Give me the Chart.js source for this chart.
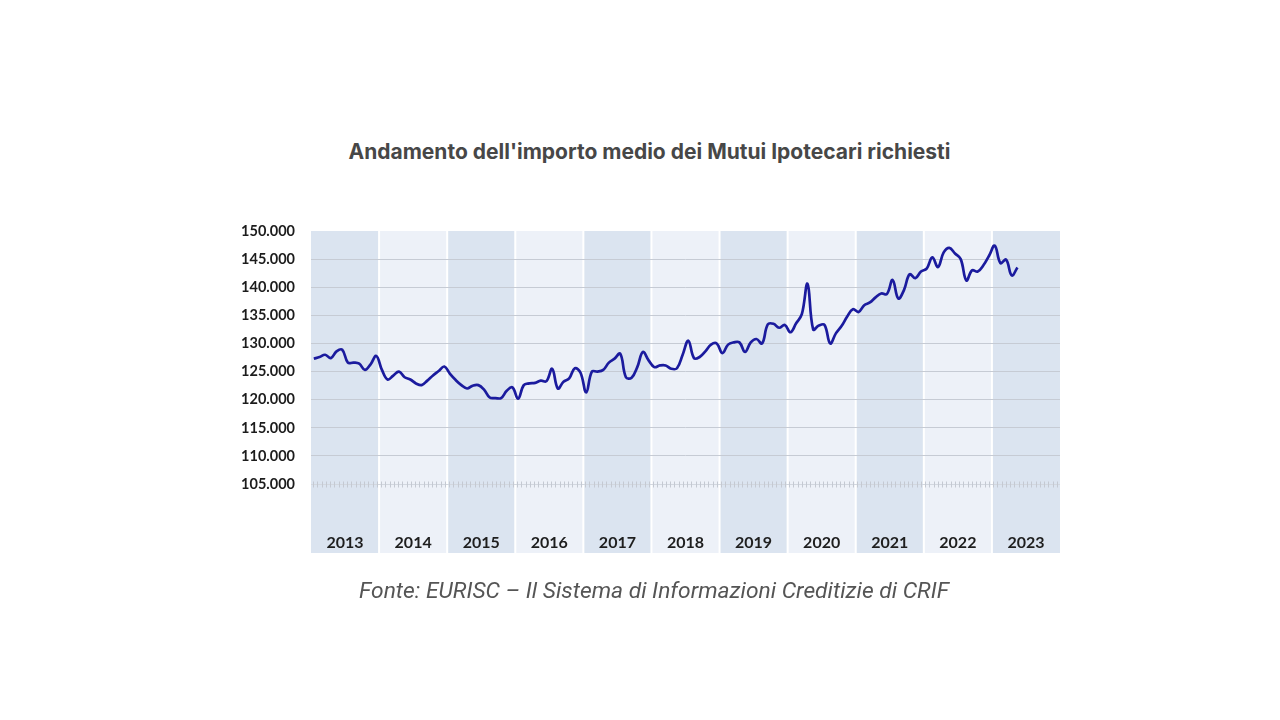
<!DOCTYPE html>
<html>
<head>
<meta charset="utf-8">
<script src="https://cdn.jsdelivr.net/npm/chart.js@4.4.0/dist/chart.umd.min.js"></script>
<style>
  html, body { margin: 0; padding: 0; background: #fff; }
  #wrap { position: relative; width: 1280px; height: 720px; overflow: hidden; }
  #grafico { position: absolute; left: 0; top: 0; }
  .titolo {
    position: absolute; left: 0; top: 139px; width: 1299px; text-align: center;
    font: 700 21px/26px Inter, "Noto Sans", sans-serif; color: #474747;
  }
  .fonte {
    position: absolute; left: 0; top: 577px; width: 1308px; text-align: center;
    font: italic 400 22.8px/28px Roboto, "Noto Sans", sans-serif; color: #555;
  }
</style>
</head>
<body>
<div id="wrap">
  <div class="titolo">Andamento dell'importo medio dei Mutui Ipotecari richiesti</div>
  <canvas id="grafico" width="1280" height="720"></canvas>
  <div class="fonte">Fonte: EURISC – Il Sistema di Informazioni Creditizie di CRIF</div>
</div>
<script>
const anni = ['2013', '2014', '2015', '2016', '2017', '2018', '2019', '2020', '2021', '2022', '2023'];

// importo medio mensile (euro), da gennaio 2013 a maggio 2023
const importoMensile = [
  127300, 127600, 128000, 127400, 128600, 128900, 126600, 126600, 126400, 125300, 126300, 127800, // 2013
  125300, 123600, 124300, 125000, 124000, 123600, 122900, 122600, 123400, 124300, 125100, 125900, // 2014
  124600, 123500, 122600, 122000, 122500, 122600, 121800, 120400, 120300, 120300, 121600, 122200, // 2015
  120200, 122600, 122900, 123000, 123400, 123300, 125500, 122000, 123200, 123800, 125600, 124800, // 2016
  121300, 125000, 125000, 125300, 126600, 127300, 128200, 124000, 123900, 125800, 128500, 127000, // 2017
  125800, 126100, 126100, 125500, 125600, 128000, 130500, 127400, 127600, 128600, 129800, 130000, // 2018
  128300, 129800, 130200, 130200, 128500, 130200, 130800, 130000, 133400, 133500, 132800, 133300, // 2019
  132000, 133600, 135200, 140600, 132500, 133200, 133300, 130000, 131800, 133100, 134800, 136100, // 2020
  135600, 136800, 137300, 138200, 138900, 138800, 141300, 138000, 139500, 142300, 141600, 142800, // 2021
  143300, 145300, 143600, 146200, 147000, 146000, 145000, 141200, 143000, 142800, 143900, 145600, // 2022
  147400, 144300, 144900, 142100, 143500                                                          // 2023
];

const tickY = [105000, 110000, 115000, 120000, 125000, 130000, 135000, 140000, 145000, 150000];

const coloreScuro = '#dbe4f0';
const coloreChiaro = '#edf1f8';

function formatta(v) {
  return String(v).replace(/\B(?=(\d{3})+(?!\d))/g, '.');
}

// fasce colorate per anno (anche sotto le etichette) e linea "righello" a 105.000
const sfondoAnni = {
  id: 'sfondoAnni',
  beforeDraw(chart) {
    const { ctx, chartArea, scales } = chart;
    const xs = scales.x;
    const alto = chartArea.top;
    const basso = xs.bottom;
    ctx.save();
    anni.forEach((a, i) => {
      const x0 = xs.getPixelForValue(i * 12);
      const x1 = xs.getPixelForValue((i + 1) * 12);
      ctx.fillStyle = i % 2 === 0 ? coloreScuro : coloreChiaro;
      ctx.fillRect(x0, alto, x1 - x0, basso - alto);
    });
    ctx.fillStyle = '#ffffff';
    for (let i = 1; i < anni.length; i++) {
      const x = xs.getPixelForValue(i * 12);
      ctx.fillRect(x - 1, alto, 2, basso - alto);
    }
    ctx.restore();
  },
  beforeDatasetsDraw(chart) {
    const { ctx, chartArea, scales } = chart;
    const y = Math.round(scales.y.getPixelForValue(105000)) + 0.5;
    ctx.save();
    ctx.strokeStyle = '#d2d7df';
    ctx.lineWidth = 1;
    ctx.beginPath();
    ctx.moveTo(chartArea.left, y);
    ctx.lineTo(chartArea.right, y);
    ctx.stroke();
    ctx.strokeStyle = '#c4c9d2';
    ctx.beginPath();
    for (let x = chartArea.left + 2; x < chartArea.right; x += 4.25) {
      const px = Math.round(x) + 0.5;
      ctx.moveTo(px, y - 3);
      ctx.lineTo(px, y + 3);
    }
    ctx.stroke();
    ctx.restore();
  }
};

new Chart(document.getElementById('grafico'), {
  type: 'line',
  data: {
    datasets: [{
      label: 'Importo medio',
      data: importoMensile.map((v, i) => ({ x: i + 0.5, y: v })),
      borderColor: '#1b1b9e',
      borderWidth: 2.7,
      pointRadius: 0,
      tension: 0.4,
      fill: false
    }]
  },
  options: {
    responsive: false,
    animation: false,
    devicePixelRatio: 1,
    layout: { padding: { left: 231, right: 220, top: 231, bottom: 167 } },
    plugins: {
      legend: { display: false },
      tooltip: { enabled: false }
    },
    scales: {
      x: {
        type: 'linear',
        min: 0,
        max: anni.length * 12,
        afterBuildTicks: (s) => { s.ticks = anni.map((a, i) => ({ value: i * 12 + 6 })); },
        afterFit: (s) => { s.height = 23; },
        grid: { display: false, drawTicks: false },
        border: { display: false },
        ticks: {
          autoSkip: false,
          maxRotation: 0,
          padding: 3,
          color: '#1e1e1e',
          font: { family: 'Lato, "Liberation Sans", sans-serif', size: 16, weight: 'bold' },
          callback: (v) => anni[Math.round((v - 6) / 12)]
        }
      },
      y: {
        min: 96840,
        max: 150000,
        afterBuildTicks: (s) => { s.ticks = tickY.map(v => ({ value: v })); },
        afterFit: (s) => { s.width = 80; },
        grid: {
          drawTicks: false,
          lineWidth: 1,
          color: (c) => (c.tick && (c.tick.value === 105000 || c.tick.value === 150000)) ? 'rgba(0,0,0,0)' : '#c6cbd4'
        },
        border: { display: false },
        ticks: {
          padding: 16,
          color: '#1c1c1c',
          font: { family: 'Lato, "Liberation Sans", sans-serif', size: 14.5, weight: 'bold' },
          callback: (v) => formatta(v)
        }
      }
    }
  },
  plugins: [sfondoAnni]
});
</script>
</body>
</html>
